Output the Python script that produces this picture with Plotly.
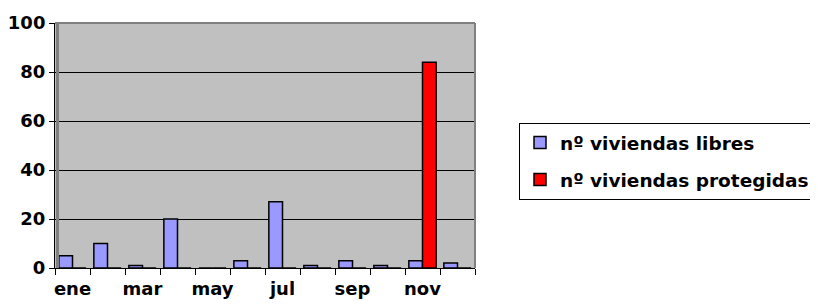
import plotly.graph_objects as go

meses = ["ene", "feb", "mar", "abr", "may", "jun", "jul", "ago", "sep", "oct", "nov", "dic"]
etiquetas = ["ene", "", "mar", "", "may", "", "jul", "", "sep", "", "nov", ""]
libres = [5, 10, 1, 20, 0, 3, 27, 1, 3, 1, 3, 2]
protegidas = [0, 0, 0, 0, 0, 0, 0, 0, 0, 0, 84, 0]

FONT = "DejaVu Sans"

fig = go.Figure()
fig.add_trace(go.Bar(x=meses, y=libres, name="nº viviendas libres",
                     marker=dict(color="#9999FF", line=dict(color="#000000", width=1.5)),
                     legendgroup="a"))
fig.add_trace(go.Bar(x=meses, y=protegidas, name="nº viviendas protegidas",
                     marker=dict(color="#FF0000", line=dict(color="#000000", width=1.5)),
                     legendgroup="b"))

fig.update_layout(
    width=818, height=304,
    margin=dict(l=47, r=351, t=15, b=44, autoexpand=False),
    paper_bgcolor="#FFFFFF",
    plot_bgcolor="#C0C0C0",
    barmode="group",
    bargap=0.22,
    bargroupgap=0.0,
    font=dict(family=FONT, size=18, color="#000000", weight="bold"),
    xaxis=dict(
        type="category", automargin=False,
        tickmode="array", tickvals=meses, ticktext=etiquetas,
        tickson="boundaries", tickangle=0,
        ticks="outside", ticklen=6, tickcolor="#000000", tickwidth=1,
        ticklabelstandoff=4,
        showline=True, linecolor="#000000", linewidth=1,
        showgrid=False,
        range=[-0.5, 11.5],
        tickfont=dict(family=FONT, size=18, color="#000000", weight="bold"),
    ),
    yaxis=dict(
        range=[0, 100], dtick=20, automargin=False,
        ticks="outside", ticklen=5, tickcolor="#000000", tickwidth=1,
        showline=True, linecolor="#000000", linewidth=1,
        showgrid=True, gridcolor="#000000", gridwidth=1,
        zeroline=False,
        tickfont=dict(family=FONT, size=18, color="#000000", weight="bold"),
    ),
    legend=dict(
        xref="container", yref="container",
        x=0.6247, y=0.622, xanchor="left", yanchor="top",
        bgcolor="#FFFFFF", bordercolor="#000000", borderwidth=1,
        traceorder="grouped", tracegroupgap=10,
        font=dict(family=FONT, size=18.5, color="#000000", weight="bold"),
    ),
    showlegend=True,
)

# plot-area border (top / right in grey, like the chart wall)
fig.add_shape(type="line", xref="paper", yref="paper", x0=0, x1=1, y0=1, y1=1,
              line=dict(color="#808080", width=2))
fig.add_shape(type="line", xref="paper", yref="paper", x0=1, x1=1, y0=0, y1=1,
              line=dict(color="#808080", width=2))
fig.add_shape(type="line", xref="paper", yref="paper", x0=0.006, x1=0.006, y0=0, y1=1,
              line=dict(color="#808080", width=3))

fig.write_html("out.html")
